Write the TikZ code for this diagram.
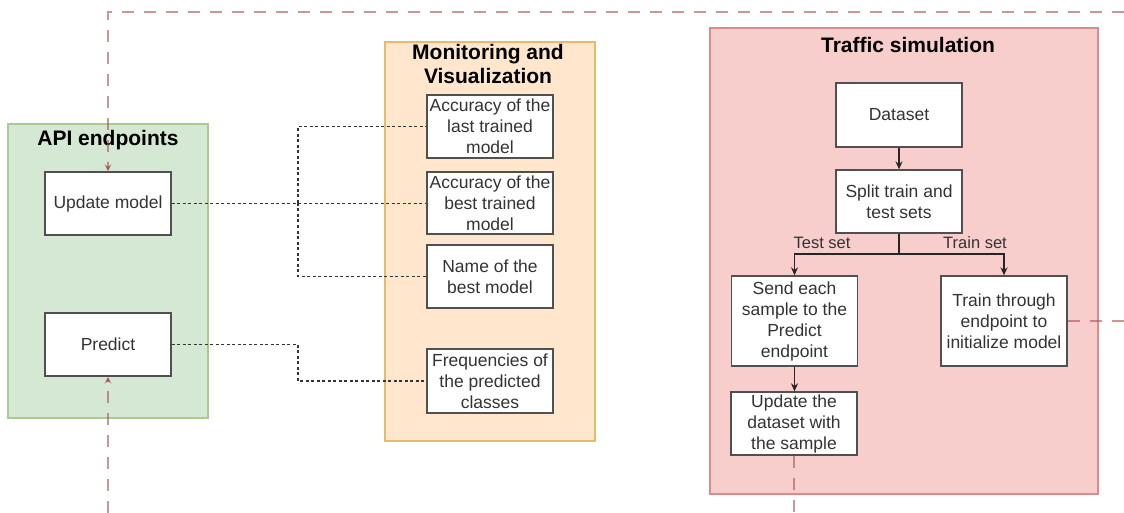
\documentclass[tikz,border=0pt]{standalone}
\usepackage{fontspec}
\setmainfont{Liberation Sans}
\usetikzlibrary{arrows.meta}
\definecolor{gfill}{HTML}{D5E8D4}
\definecolor{gline}{HTML}{A6CC92}
\definecolor{ofill}{HTML}{FFE6CC}
\definecolor{oline}{HTML}{E6BC6A}
\definecolor{rfill}{HTML}{F8CECC}
\definecolor{rline}{HTML}{D98C8A}
\definecolor{dashcol}{HTML}{A85050}
\definecolor{boxline}{HTML}{505050}
\definecolor{txtcol}{HTML}{333333}
\tikzset{
  group/.style={draw, line width=1.2pt, minimum width=#1, inner sep=0pt},
  grouptitle/.style={font=\bfseries\fontsize{21}{24}\selectfont, align=center, text=black},
  box/.style={draw=boxline, fill=white, line width=1.3pt, minimum width=126pt, inner sep=1pt,
    align=center, text=txtcol, font=\fontsize{17.5}{21}\selectfont},
  lbl/.style={text=txtcol, font=\fontsize{16.5}{20}\selectfont, inner sep=0pt},
  dotline/.style={draw=txtcol, line width=1.2pt, dash pattern=on 3pt off 2.5pt},
  flow/.style={draw=black!85, line width=1.3pt, -{Stealth[length=8pt,width=7pt]}},
  reddash/.style={draw=dashcol, draw opacity=0.6, line width=1.5pt, dash pattern=on 12pt off 10pt},
  redarrow/.style={reddash, -{Stealth[length=7pt,width=7pt]}}
}
\begin{document}
\begin{tikzpicture}[x=1pt,y=-1pt]
\useasboundingbox (0,0) rectangle (1124,513);
\fill[white] (0,0) rectangle (1124,513);

% groups
\node[group=200pt, minimum height=294pt, fill=gfill, draw=gline] (api) at (108,271) {};
\node[grouptitle] (apit) at (108,140) {API endpoints};
\node[group=210pt, minimum height=399pt, fill=ofill, draw=oline] (mon) at (490,241.5) {};
\node[grouptitle] (mont) at (488,64) {Monitoring and\\Visualization};
\node[group=388pt, minimum height=466pt, fill=rfill, draw=rline] (traf) at (904,261) {};
\node[grouptitle] (traft) at (908,45) {Traffic simulation};

% API boxes
\node[box, minimum height=63pt] (upd) at (108,203.5) {Update model};
\node[box, minimum height=63pt] (pred) at (108,344.5) {Predict};

% monitoring boxes
\node[box, minimum height=63pt] (acc1) at (490,126.5) {Accuracy of the\\last trained\\model};
\node[box, minimum height=62pt] (acc2) at (490,203) {Accuracy of the\\best trained\\model};
\node[box, minimum height=63pt] (bname) at (490,276.5) {Name of the\\best model};
\node[box, minimum height=64pt] (freq) at (490,381) {Frequencies of\\the predicted\\classes};

% traffic boxes
\node[box, minimum height=64pt] (data) at (899,115) {Dataset};
\node[box, minimum height=63pt] (split) at (899,201.5) {Split train and\\test sets};
\node[box, minimum height=90pt] (send) at (794.5,321) {Send each\\sample to the\\Predict\\endpoint};
\node[box, minimum height=90pt] (train) at (1004,321) {Train through\\endpoint to\\initialize model};
\node[box, minimum height=63pt] (updd) at (794,423.5) {Update the\\dataset with\\the sample};

% dotted connectors
\coordinate (j1) at (298,203);
\draw[dotline] (upd.east) -- (upd.east -| acc2.west);
\draw[dotline] (j1) |- (acc1.west);
\draw[dotline] (j1) |- (bname.west);
\draw[dotline] (pred.east) -- (pred.east -| j1) |- (freq.west);

% flow arrows
\coordinate (fork) at (899,254);
\draw[flow] (data.south) -- (split.north);
\draw[draw=black!85, line width=1.3pt] (split.south) -- (fork);
\draw[flow] (fork) -| (send.north);
\draw[flow] (fork) -| (train.north);
\node[lbl] (testl) at (822,243) {Test set};
\node[lbl] (trainl) at (975,243) {Train set};
\draw[flow] (send.south) -- (updd.north -| send.south);

% red dashed links leaving the picture
\coordinate (topR) at (1124,12);
\coordinate (botL) at (108,513);
\coordinate (botR) at (794,513);
\coordinate (rightE) at (1124,321);
\draw[redarrow] (topR) -| (upd.north);
\draw[redarrow] (botL) -- (pred.south);
\draw[reddash] (updd.south) -- (botR);
\draw[reddash] (train.east) -- (train.east -| rightE);
\end{tikzpicture}
\end{document}
